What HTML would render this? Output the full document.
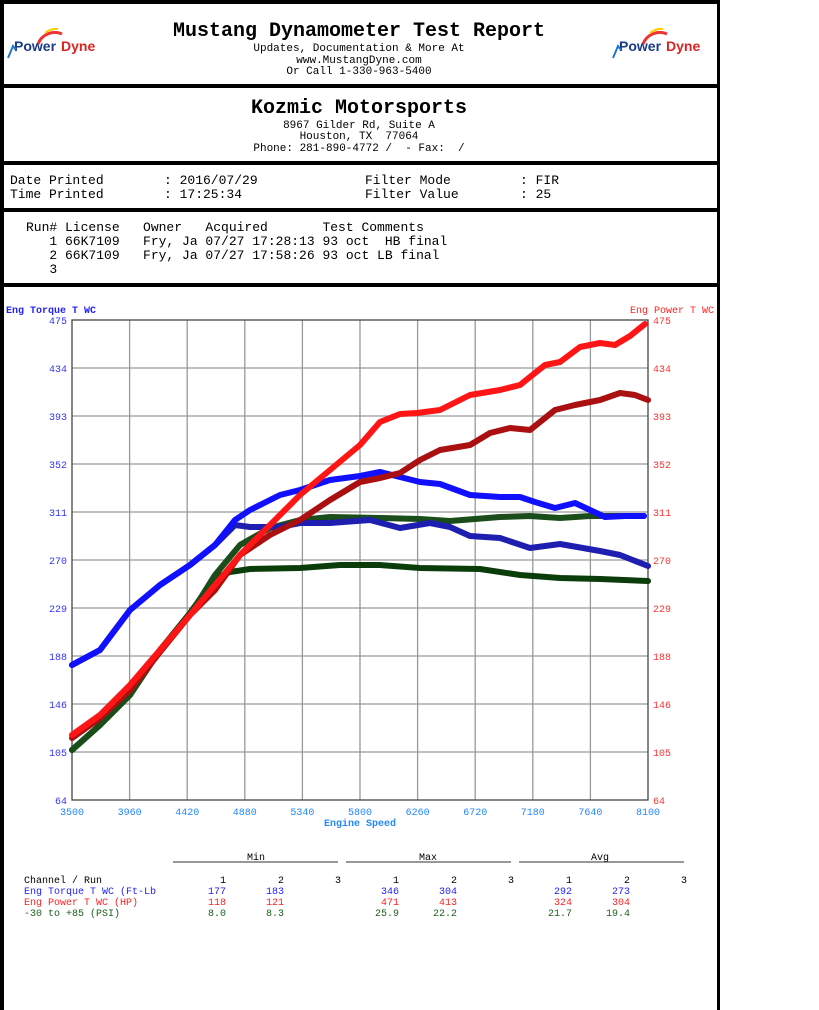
<!DOCTYPE html>
<html><head><meta charset="utf-8"><style>
body{margin:0;width:819px;height:1010px;background:#fff;overflow:hidden;font-family:"Liberation Mono",monospace;}
svg text{white-space:pre;}
</style></head><body>
<svg width="819" height="1010" style="position:absolute;left:0;top:0" font-family="Liberation Mono, monospace" xml:space="preserve">
<rect x="1.5" y="1.5" width="717" height="1010" fill="none" stroke="#000" stroke-width="3"/>
<rect x="0" y="0" width="720" height="4" fill="#000"/>
<rect x="0" y="0" width="4" height="1010" fill="#000"/>
<rect x="0" y="84" width="720" height="4" fill="#000"/>
<rect x="0" y="161" width="720" height="4" fill="#000"/>
<rect x="0" y="208" width="720" height="4" fill="#000"/>
<rect x="0" y="283" width="720" height="4" fill="#000"/>
<g>
<path d="M38 44 A18 18 0 0 1 62 34" stroke="#e33" stroke-width="3" fill="none"/>
<path d="M45 33 A18 18 0 0 1 58 29" stroke="#fc0" stroke-width="2" fill="none"/>
<text x="14" y="51" font-family="Liberation Sans" font-weight="bold" font-size="14" fill="#1a3a8a">Power</text><text x="61" y="51" font-family="Liberation Sans" font-weight="bold" font-size="14" fill="#d22">Dyne</text>
<path d="M8 58 L13 46 L16 50" stroke="#27c" stroke-width="2" fill="none"/>
</g>
<g transform="translate(605,0)">
<path d="M38 44 A18 18 0 0 1 62 34" stroke="#e33" stroke-width="3" fill="none"/>
<path d="M45 33 A18 18 0 0 1 58 29" stroke="#fc0" stroke-width="2" fill="none"/>
<text x="14" y="51" font-family="Liberation Sans" font-weight="bold" font-size="14" fill="#1a3a8a">Power</text><text x="61" y="51" font-family="Liberation Sans" font-weight="bold" font-size="14" fill="#d22">Dyne</text>
<path d="M8 58 L13 46 L16 50" stroke="#27c" stroke-width="2" fill="none"/>
</g>
<text x="359" y="36" text-anchor="middle" font-size="20" font-weight="bold">Mustang Dynamometer Test Report</text>
<text x="359" y="51" text-anchor="middle" font-size="11">Updates, Documentation &amp; More At</text>
<text x="359" y="63" text-anchor="middle" font-size="11">www.MustangDyne.com</text>
<text x="359" y="74" text-anchor="middle" font-size="11">Or Call 1-330-963-5400</text>
<text x="359" y="113" text-anchor="middle" font-size="20" font-weight="bold">Kozmic Motorsports</text>
<text x="359" y="128" text-anchor="middle" font-size="11">8967 Gilder Rd, Suite A</text>
<text x="359" y="139" text-anchor="middle" font-size="11">Houston, TX  77064</text>
<text x="359" y="151" text-anchor="middle" font-size="11">Phone: 281-890-4772 /  - Fax:  /</text>
<g font-size="13">
<text x="10" y="184">Date Printed</text><text x="164" y="184">: 2016/07/29</text><text x="365" y="184">Filter Mode</text><text x="520" y="184">: FIR</text>
<text x="10" y="198">Time Printed</text><text x="164" y="198">: 17:25:34</text><text x="365" y="198">Filter Value</text><text x="520" y="198">: 25</text>
<text x="26" y="231">Run# License   Owner   Acquired       Test Comments</text>
<text x="26" y="245">   1 66K7109   Fry, Ja 07/27 17:28:13 93 oct  HB final</text>
<text x="26" y="259">   2 66K7109   Fry, Ja 07/27 17:58:26 93 oct LB final</text>
<text x="26" y="273">   3</text>
</g>
<text x="6" y="313" font-size="10" font-weight="bold" fill="#22f">Eng Torque T WC</text>
<text x="714" y="313" font-size="10" text-anchor="end" fill="#f22">Eng Power T WC</text>
<g stroke="#999" stroke-width="1.3">
<line x1="129.6" y1="320" x2="129.6" y2="800"/><line x1="187.2" y1="320" x2="187.2" y2="800"/><line x1="244.8" y1="320" x2="244.8" y2="800"/><line x1="302.4" y1="320" x2="302.4" y2="800"/><line x1="360" y1="320" x2="360" y2="800"/><line x1="417.6" y1="320" x2="417.6" y2="800"/><line x1="475.2" y1="320" x2="475.2" y2="800"/><line x1="532.8" y1="320" x2="532.8" y2="800"/><line x1="590.4" y1="320" x2="590.4" y2="800"/>
<line x1="72" y1="368" x2="648" y2="368"/><line x1="72" y1="416" x2="648" y2="416"/><line x1="72" y1="464" x2="648" y2="464"/><line x1="72" y1="512" x2="648" y2="512"/><line x1="72" y1="560" x2="648" y2="560"/><line x1="72" y1="608" x2="648" y2="608"/><line x1="72" y1="656" x2="648" y2="656"/><line x1="72" y1="704" x2="648" y2="704"/><line x1="72" y1="752" x2="648" y2="752"/>
</g>
<rect x="72" y="320" width="576" height="480" fill="none" stroke="#444" stroke-width="1.3"/>
<g font-size="10" fill="#33f" text-anchor="end">
<text x="67" y="324">475</text><text x="67" y="372">434</text><text x="67" y="420">393</text><text x="67" y="468">352</text><text x="67" y="516">311</text><text x="67" y="564">270</text><text x="67" y="612">229</text><text x="67" y="660">188</text><text x="67" y="708">146</text><text x="67" y="756">105</text><text x="67" y="804">64</text>
</g>
<g font-size="10" fill="#f33">
<text x="653" y="324">475</text><text x="653" y="372">434</text><text x="653" y="420">393</text><text x="653" y="468">352</text><text x="653" y="516">311</text><text x="653" y="564">270</text><text x="653" y="612">229</text><text x="653" y="660">188</text><text x="653" y="708">146</text><text x="653" y="756">105</text><text x="653" y="804">64</text>
</g>
<g font-size="10" fill="#28f" text-anchor="middle">
<text x="72" y="815">3500</text><text x="129.6" y="815">3960</text><text x="187.2" y="815">4420</text><text x="244.8" y="815">4880</text><text x="302.4" y="815">5340</text><text x="360" y="815">5800</text><text x="417.6" y="815">6260</text><text x="475.2" y="815">6720</text><text x="532.8" y="815">7180</text><text x="590.4" y="815">7640</text><text x="648" y="815">8100</text>
<text x="360" y="826" font-weight="bold">Engine Speed</text>
</g>
<g fill="none" stroke-width="6" stroke-linejoin="round" stroke-linecap="round">
<polyline stroke="#0b3d0b" points="72,750 100,725 130,695 160,650 190,613 215,578 230,572 250,569 300,568 340,565 380,565 420,568 480,569 520,575 560,578 600,579 648,581"/>
<polyline stroke="#1b4d1b" points="72,750 100,725 130,695 160,650 190,615 215,575 240,545 270,528 300,520 330,517 380,518 420,519 450,521 500,517 530,516 560,518 590,516 644,516"/>
<polyline stroke="#1e1eb0" points="72,665 100,650 130,610 160,585 190,565 215,545 235,525 250,527 280,527 300,523 330,523 370,520 400,528 430,523 450,527 470,536 500,538 530,548 560,544 600,551 620,555 648,566"/>
<polyline stroke="#1010ff" points="72,665 100,650 130,610 160,585 190,565 215,545 235,520 250,510 280,495 300,490 330,480 360,476 380,472 400,477 420,482 440,484 470,495 500,497 520,497 535,502 555,508 575,503 590,510 605,517 625,516 644,516"/>
<polyline stroke="#aa1010" points="72,738 100,718 130,690 160,652 190,615 215,590 240,555 270,535 300,520 330,500 360,482 380,478 400,473 420,460 440,450 470,445 490,433 510,428 530,430 555,410 575,405 600,400 620,393 635,395 648,400"/>
<polyline stroke="#ff1515" points="72,735 100,715 130,685 160,650 190,615 215,585 240,555 270,525 300,495 330,470 360,445 380,422 400,414 417,413 440,410 470,395 500,390 520,385 545,365 560,362 580,347 600,343 615,345 630,336 645,324"/>
</g>
<g stroke="#777" stroke-width="1.5">
<line x1="173" y1="862" x2="338" y2="862"/><line x1="346" y1="862" x2="511" y2="862"/><line x1="519" y1="862" x2="684" y2="862"/>
</g>
<g font-size="10">
<text x="256" y="860" text-anchor="middle">Min</text><text x="428" y="860" text-anchor="middle">Max</text><text x="600" y="860" text-anchor="middle">Avg</text>
<text x="24" y="883">Channel / Run</text>
<g text-anchor="end">
<text x="226" y="883">1</text><text x="284" y="883">2</text><text x="341" y="883">3</text>
<text x="399" y="883">1</text><text x="457" y="883">2</text><text x="514" y="883">3</text>
<text x="572" y="883">1</text><text x="630" y="883">2</text><text x="687" y="883">3</text>
</g>
<g fill="#22f"><text x="24" y="894">Eng Torque T WC (Ft-Lb</text><g text-anchor="end"><text x="226" y="894">177</text><text x="284" y="894">183</text><text x="399" y="894">346</text><text x="457" y="894">304</text><text x="572" y="894">292</text><text x="630" y="894">273</text></g></g>
<g fill="#f22"><text x="24" y="905">Eng Power T WC (HP)</text><g text-anchor="end"><text x="226" y="905">118</text><text x="284" y="905">121</text><text x="399" y="905">471</text><text x="457" y="905">413</text><text x="572" y="905">324</text><text x="630" y="905">304</text></g></g>
<g fill="#1b5e1b"><text x="24" y="916">-30 to +85 (PSI)</text><g text-anchor="end"><text x="226" y="916">8.0</text><text x="284" y="916">8.3</text><text x="399" y="916">25.9</text><text x="457" y="916">22.2</text><text x="572" y="916">21.7</text><text x="630" y="916">19.4</text></g></g>
</g>
</svg>
</body></html>
